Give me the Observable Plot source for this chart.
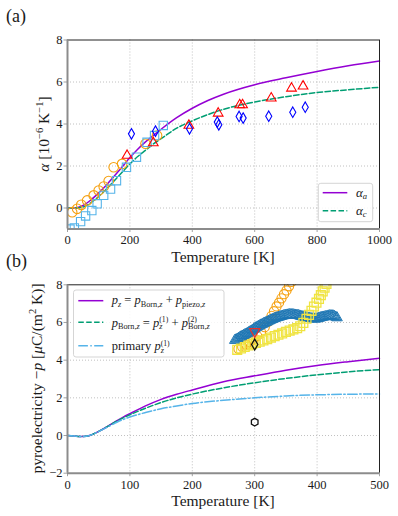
<!DOCTYPE html>
<html><head><meta charset="utf-8">
<script src="https://cdn.jsdelivr.net/npm/d3@7"></script>
<script src="https://cdn.jsdelivr.net/npm/@observablehq/plot@0.6"></script>
<style>
body{margin:0;background:#fff;}
#wrap{position:relative;width:398px;height:516px;overflow:hidden;}
#wrap svg{position:absolute;left:0;overflow:visible;}
</style></head><body><div id="wrap"></div>
<script>
// ---------- panel (a) data ----------
const fitT = [0,25,50,75,100,125,150,175,200,225,250,275,300,350,400,450,500,600,700,800,900,1000];
const alphaA = [0,0,0.12,0.38,0.72,1.1,1.52,1.95,2.4,2.8,3.15,3.45,3.75,4.3,4.75,5.12,5.42,5.87,6.2,6.5,6.77,7.0];
const alphaC = [0,0,0.05,0.25,0.55,0.9,1.3,1.7,2.1,2.45,2.75,3.05,3.3,3.8,4.15,4.45,4.7,5.05,5.3,5.5,5.63,5.75];
const circT = [15,31,44,63,84,100,116,132,148,175,250,287];
const circA = [-0.2,-0.04,0.15,0.36,0.6,0.83,1.02,1.28,1.94,2.1,3.06,3.45];
const sqT = [8,22,42,58,78,95,116,138,157,189,221,255,279,307];
const sqA = [-1.0,-0.95,-0.65,-0.38,-0.12,0.2,0.6,0.9,1.3,1.94,2.42,3.13,3.45,3.93];
const triT = [191,275,389,483,552,561,653,718,755];
const triA = [2.5,3.1,3.93,4.51,4.91,4.91,5.23,5.7,5.8];
const diaT = [205,282,391,480,485,550,563,645,722,762];
const diaA = [3.53,3.66,3.77,4.09,3.96,4.36,4.28,4.37,4.56,4.8];
const ticksXa = [0,200,400,600,800,1000];
const ticksYa = [0,2,4,6,8];

// ---------- panel (b) data ----------
const fitT2 = [0,10,20,30,40,50,60,70,80,90,100,125,150,175,200,250,300,350,400,450,500];
const pz = [0,-0.02,-0.05,-0.04,0.06,0.22,0.4,0.6,0.8,0.99,1.16,1.57,1.92,2.19,2.42,2.85,3.17,3.47,3.72,3.92,4.1];
const pBorn = [0,-0.02,-0.05,-0.04,0.06,0.22,0.4,0.59,0.78,0.95,1.1,1.45,1.75,2.0,2.2,2.53,2.8,3.03,3.22,3.38,3.5];
const pPrim = [0,-0.02,-0.05,-0.04,0.06,0.21,0.38,0.55,0.72,0.86,0.98,1.22,1.42,1.57,1.7,1.87,2.0,2.1,2.16,2.19,2.21];
const blueT = [268,270,272,274,276,278,280,282,284,286,288,290,292,294,296,298,300,302,304,306,308,310,312,314,316,318,320,322,324,326,328,330,332,334,336,338,340,342,344,346,348,350,352,354,356,358,360,362,364,366,368,370,372,374,376,378,380,382,384,386,388,390,392,394,396,398,400,402,404,406,408,410,412,414,416,418,420,422,424,426,428,430,432];
const blueP = [5.05,5.08,5.12,5.16,5.2,5.24,5.28,5.31,5.35,5.38,5.42,5.46,5.5,5.54,5.58,5.63,5.68,5.72,5.76,5.8,5.83,5.87,5.9,5.94,5.97,6.0,6.03,6.07,6.1,6.13,6.16,6.19,6.21,6.24,6.26,6.28,6.3,6.32,6.34,6.36,6.37,6.39,6.4,6.41,6.42,6.42,6.42,6.41,6.4,6.39,6.38,6.37,6.35,6.33,6.31,6.3,6.28,6.27,6.25,6.24,6.22,6.21,6.2,6.2,6.19,6.19,6.2,6.22,6.24,6.26,6.28,6.29,6.3,6.32,6.33,6.35,6.36,6.36,6.36,6.35,6.32,6.28,6.25];
const yelT = [272,278,284,290,296,302,308,314,320,326,332,338,344,350,356,362,368,373,378,383,387,391,395,399,403,406,409,412,415];
const yelP = [4.55,4.62,4.7,4.78,4.85,4.92,4.98,5.05,5.12,5.2,5.28,5.35,5.42,5.5,5.57,5.63,5.7,5.8,5.98,6.2,6.4,6.62,6.85,7.05,7.25,7.45,7.65,7.85,8.05];
const oraT = [274,280,286,292,298,304,310,316,322,327,331,335,339,343,347,351,355,359];
const oraP = [4.6,4.7,4.82,4.95,5.1,5.28,5.5,5.75,6.05,6.35,6.6,6.85,7.05,7.28,7.5,7.7,7.92,8.15];
const singleT = [300];
const redDownP = [5.52];
const blackDiaP = [4.83];
const blackHexP = [0.71];
const ticksXb = [0,100,200,300,400,500];
const ticksYb = [-2,0,2,4,6,8];

// ---------- styles ----------
const serif = '"Liberation Serif", "DejaVu Serif", serif';
const PURPLE = "#9400d3", GREEN = "#009e73", SKY = "#56b4e9", ORANGE = "#f5a00f", YELLOW = "#f0e442", DBLUE = "#1f77b4";
const SPINE = "#8c8c8c";
const fmt = d => d < 0 ? "\u2212" + (-d) : String(d);
const grid = {stroke:"#b0b0b0", strokeOpacity:1, strokeWidth:0.8, strokeDasharray:"1,2"};
const zip = (a, b) => a.map((x, i) => ({x, y: b[i]}));

const wrap = document.getElementById("wrap");

function frameMarks(x0, x1, y0, y1) {
  return [
    Plot.ruleX([x1], {stroke:"#222", strokeWidth:1}),
    Plot.ruleY([y1], {stroke:"#222", strokeWidth:1}),
    Plot.ruleX([x0], {stroke:SPINE, strokeWidth:2}),
    Plot.ruleY([y0], {stroke:SPINE, strokeWidth:2})
  ];
}
const plotStyle = {fontFamily:serif, fontSize:"12.5px", color:"#1a1a1a", background:"transparent", overflow:"visible"};

// ---------- panel (a) ----------
const svgA = Plot.plot({
  width:398, height:268, marginLeft:67, marginRight:19, marginTop:39.5, marginBottom:39.5,
  style:plotStyle,
  x:{domain:[0,1000]}, y:{domain:[-1,8]},
  marks:[
    Plot.gridX({ticks:[200,400,600,800], ...grid}),
    Plot.gridY({ticks:[0,2,4,6], ...grid}),
    Plot.line(zip(fitT, alphaA), {x:"x", y:"y", stroke:PURPLE, strokeWidth:1.5, curve:"monotone-x"}),
    Plot.line(zip(fitT, alphaC), {x:"x", y:"y", stroke:GREEN, strokeWidth:1.5, strokeDasharray:"5.5,2.4", curve:"monotone-x"}),
    Plot.dot(zip(circT, circA), {x:"x", y:"y", symbol:"circle", r:4.8, stroke:ORANGE, fill:"none", strokeWidth:1.1, clip:true}),
    Plot.dot(zip(sqT, sqA), {x:"x", y:"y", symbol:"square", r:4.7, stroke:SKY, fill:"none", strokeWidth:1.1, clip:true}),
    Plot.dot(zip(triT, triA), {x:"x", y:"y", symbol:"triangle", r:3.6, stroke:"red", fill:"none", strokeWidth:1.1, clip:true}),
    Plot.dot(zip(diaT, diaA), {x:"x", y:"y", symbol:"diamond", r:3.2, stroke:"blue", fill:"none", strokeWidth:1.1, clip:true}),
    ...frameMarks(0, 1000, -1, 8),
    Plot.axisX({ticks:ticksXa, tickSize:3.5, tickPadding:3, tickFormat:fmt, label:null, stroke:SPINE, strokeWidth:0.8}),
    Plot.axisY({ticks:ticksYa, tickSize:3.5, tickPadding:1.5, tickFormat:fmt, label:null, stroke:SPINE, strokeWidth:0.8})
  ]
});
svgA.style.top = "0px";
wrap.appendChild(svgA);

// ---------- panel (b) ----------
const svgB = Plot.plot({
  width:398, height:248, marginLeft:67, marginRight:19, marginTop:16.3, marginBottom:43.3,
  style:plotStyle,
  x:{domain:[0,500]}, y:{domain:[-2,8]},
  marks:[
    Plot.gridX({ticks:[100,200,300,400], ...grid}),
    Plot.gridY({ticks:[0,2,4,6], ...grid}),
    Plot.line(zip(fitT2, pz), {x:"x", y:"y", stroke:PURPLE, strokeWidth:1.5, curve:"monotone-x"}),
    Plot.line(zip(fitT2, pBorn), {x:"x", y:"y", stroke:GREEN, strokeWidth:1.5, strokeDasharray:"5.5,2.4", curve:"monotone-x"}),
    Plot.line(zip(fitT2, pPrim), {x:"x", y:"y", stroke:SKY, strokeWidth:1.5, strokeDasharray:"9.6,2.4,1.5,2.4", curve:"monotone-x"}),
    Plot.dot(zip(oraT, oraP), {x:"x", y:"y", symbol:"circle", r:4.6, stroke:ORANGE, fill:"none", strokeWidth:1.1, clip:true}),
    Plot.dot(zip(blueT, blueP), {x:"x", y:"y", symbol:"triangle", r:3.9, stroke:DBLUE, fill:"none", strokeWidth:1.0, clip:true}),
    Plot.dot(zip(yelT, yelP), {x:"x", y:"y", symbol:"square", r:5, stroke:YELLOW, fill:"none", strokeWidth:1.3, clip:true}),
    Plot.dot(zip(singleT, redDownP), {x:"x", y:"y", symbol:"triangle", rotate:180, r:3.8, stroke:"#e8302a", fill:"none", strokeWidth:1.2}),
    Plot.dot(zip(singleT, blackDiaP), {x:"x", y:"y", symbol:"diamond", r:3.3, stroke:"#111", fill:"none", strokeWidth:1.3}),
    Plot.dot(zip(singleT, blackHexP), {x:"x", y:"y", symbol:"hexagon", r:3.3, stroke:"#111", fill:"none", strokeWidth:1.3}),
    ...frameMarks(0, 500, -2, 8),
    Plot.axisX({ticks:ticksXb, tickSize:3.5, tickPadding:3, tickFormat:fmt, label:null, stroke:SPINE, strokeWidth:0.8}),
    Plot.axisY({ticks:ticksYb, tickSize:3.5, tickPadding:1.5, tickFormat:fmt, label:null, stroke:SPINE, strokeWidth:0.8})
  ]
});
svgB.style.top = "268px";
wrap.appendChild(svgB);

// ---------- rich text helper ----------
function rich(parent, x, y, parts, o) {
  const size = o.size;
  const t = parent.append("text").attr("x", x).attr("y", y)
    .attr("font-family", serif).attr("font-size", size).attr("fill", "#1a1a1a")
    .attr("text-anchor", o.anchor || "start");
  if (o.rotate) t.attr("transform", `rotate(${o.rotate},${x},${y})`);
  let shift = 0, run = [];
  for (const p of parts) {
    const s = p.shift || 0;
    const ts = t.append("tspan").text(p.t);
    ts.attr("dy", (shift - s) * size);
    if (p.i) ts.attr("font-style", "italic");
    if (p.scale) ts.attr("font-size", size * p.scale);
    if (p.back) {
      const w = run.reduce((a, n) => a + n.node().getComputedTextLength(), 0);
      ts.attr("dx", -w);
    }
    if (s !== shift || p.back) run = [];
    run.push(ts);
    shift = s;
  }
  return t;
}
const SUB = {scale:0.66, shift:-0.2};
const SUP = {scale:0.62, shift:0.34};

const A = d3.select(svgA), B = d3.select(svgB);

// panel labels
rich(A, 6, 22, [{t:"(a)"}], {size:18});
rich(A, 6, 266.5, [{t:"(b)"}], {size:18});

// axis labels
rich(A, 223, 262, [{t:"Temperature [K]"}], {size:15.5, anchor:"middle"});
rich(B, 223, 237.5, [{t:"Temperature [K]"}], {size:15.5, anchor:"middle"});
rich(A, 49, 134, [{t:"\u03b1", i:1}, {t:" [10"}, {t:"\u22126", scale:0.68, shift:0.38}, {t:" K"}, {t:"\u22121", scale:0.68, shift:0.38}, {t:"]"}], {size:15.5, anchor:"middle", rotate:-90});
rich(B, 42, 110.5, [{t:"pyroelectricity \u2212"}, {t:"p", i:1}, {t:" ["}, {t:"\u03bc", i:1}, {t:"C/(m"}, {t:"2", scale:0.68, shift:0.38}, {t:" K)]"}], {size:15.5, anchor:"middle", rotate:-90});

// legend (a)
A.append("rect").attr("x", 318.3).attr("y", 183.3).attr("width", 54.4).attr("height", 38.4).attr("rx", 2.5)
  .attr("fill", "#fff").attr("fill-opacity", 0.85).attr("stroke", "#d0d0d0").attr("stroke-width", 0.9);
A.append("line").attr("x1", 322.7).attr("x2", 347.3).attr("y1", 192.7).attr("y2", 192.7).attr("stroke", PURPLE).attr("stroke-width", 1.5);
A.append("line").attr("x1", 322.7).attr("x2", 347.3).attr("y1", 210.7).attr("y2", 210.7).attr("stroke", GREEN).attr("stroke-width", 1.5).attr("stroke-dasharray", "5.5,2.4");
rich(A, 356, 196.5, [{t:"\u03b1", i:1}, {t:"a", i:1, ...SUB}], {size:13});
rich(A, 356, 214.5, [{t:"\u03b1", i:1}, {t:"c", i:1, ...SUB}], {size:13});

// legend (b)
B.append("rect").attr("x", 73.5).attr("y", 22).attr("width", 150.5).attr("height", 67).attr("rx", 2.5)
  .attr("fill", "#fff").attr("fill-opacity", 0.85).attr("stroke", "#d0d0d0").attr("stroke-width", 0.9);
B.append("line").attr("x1", 78.3).attr("x2", 103.3).attr("y1", 32.7).attr("y2", 32.7).attr("stroke", PURPLE).attr("stroke-width", 1.5);
B.append("line").attr("x1", 78.3).attr("x2", 103.3).attr("y1", 54.3).attr("y2", 54.3).attr("stroke", GREEN).attr("stroke-width", 1.5).attr("stroke-dasharray", "5.5,2.4");
B.append("line").attr("x1", 78.3).attr("x2", 103.3).attr("y1", 77.7).attr("y2", 77.7).attr("stroke", SKY).attr("stroke-width", 1.5).attr("stroke-dasharray", "9.6,2.4,1.5,2.4");
rich(B, 111.7, 36.2, [
  {t:"p", i:1}, {t:"z", i:1, ...SUB}, {t:" = "}, {t:"p", i:1}, {t:"Born,", ...SUB}, {t:"z", i:1, ...SUB},
  {t:" + "}, {t:"p", i:1}, {t:"piezo,", ...SUB}, {t:"z", i:1, ...SUB}
], {size:12.5});
rich(B, 111.7, 58.6, [
  {t:"p", i:1}, {t:"Born,", ...SUB}, {t:"z", i:1, ...SUB}, {t:" = "}, {t:"p", i:1}, {t:"z", i:1, ...SUB}, {t:"(1)", ...SUP, back:1},
  {t:" + "}, {t:"p", i:1}, {t:"Born,", ...SUB}, {t:"z", i:1, ...SUB}, {t:"(2)", ...SUP, back:1}
], {size:12.5});
rich(B, 111.7, 82, [
  {t:"primary "}, {t:"p", i:1}, {t:"z", i:1, ...SUB}, {t:"(1)", ...SUP, back:1}
], {size:12.5});
</script>
</body></html>
